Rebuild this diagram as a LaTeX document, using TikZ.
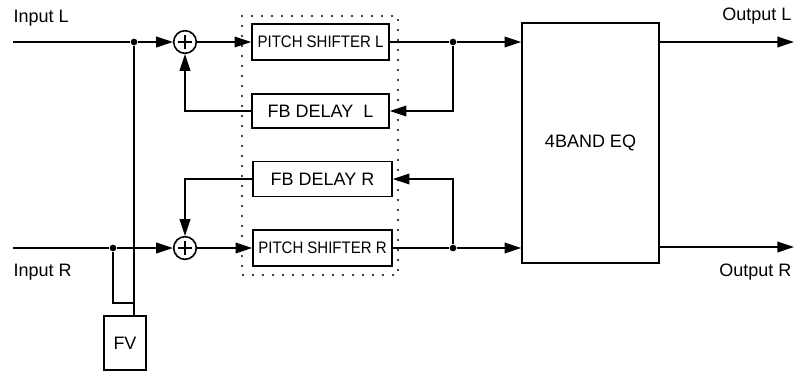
\documentclass[tikz,border=0pt]{standalone}
\usepackage{fontspec}
\usepackage{graphicx}
\setmainfont{Liberation Sans}
\usetikzlibrary{arrows.meta,calc,positioning}
\newcommand{\narrowtext}[1]{\scalebox{0.9}[1]{#1}}
\tikzset{
    blockbox/.style={draw=black,line width=1.2pt,inner sep=0pt},
    sumnode/.style={circle,draw=black,line width=1.2pt,minimum size=17pt,inner sep=0pt,
      path picture={
        \draw[line width=1.2pt] ($(path picture bounding box.center)+(-5pt,0)$) -- ++(10pt,0);
        \draw[line width=1.2pt] ($(path picture bounding box.center)+(0,-5pt)$) -- ++(0,10pt);
      }},
    sigline/.style={line width=1.2pt,draw=black},
    sigarrow/.style={sigline,-{Triangle[length=12.5pt,width=8pt]}},
    jdot/.style={circle,fill=black,inner sep=0pt,minimum size=5pt},
    every node/.style={font=\fontsize{13.5}{15}\selectfont}
}

\begin{document}
\begin{tikzpicture}[x=0.75pt,y=-0.75pt]
  \useasboundingbox (0,0) rectangle (795,372);

  % Bloecke
  \node[blockbox,font=\fontsize{12.5}{14}\selectfont,minimum width=102.75pt,minimum height=27pt]
    (psL) at (320.5,42) {\narrowtext{PITCH SHIFTER L}};
  \node[blockbox,minimum width=102.75pt,minimum height=25.5pt]
    (fbL) at (320.5,111) {FB DELAY~~L};
  \node[blockbox,minimum width=104.25pt,minimum height=26pt]
    (fbR) at (322.5,179) {FB DELAY R};
  \node[blockbox,font=\fontsize{12.5}{14}\selectfont,minimum width=104.25pt,minimum height=27pt]
    (psR) at (322.5,248) {\narrowtext{PITCH SHIFTER R}};
  \node[blockbox,minimum width=102.75pt,minimum height=180pt]
    (EQ) at (590.5,143) {4BAND EQ};
  \node[blockbox,minimum width=31.5pt,minimum height=40.5pt]
    (FV) at (125,343) {FV};

  % Addierer
  \node[sumnode] (sumL) at (185,42) {};
  \node[sumnode] (sumR) at (185,248) {};

  % gepunkteter Rahmen
  \draw[line width=1.8pt,line cap=round,dash pattern=on 0pt off 7.5pt]
    (242,16) rectangle (398,275);

  % Ein- und Ausgaenge
  \coordinate (inL) at (13,42);
  \coordinate (inR) at (13,248);
  \coordinate (outL) at (794,42);
  \coordinate (outR) at (794,247);
  \node[anchor=west] (labInL) at (9,18) {Input L};
  \node[anchor=west] (labInR) at (9,272) {Input R};
  \node[anchor=east] (labOutL) at (796,16) {Output L};
  \node[anchor=east] (labOutR) at (796,272) {Output R};

  % Verzweigungen
  \node[jdot] (jL) at (134,42) {};
  \node[jdot] (jR) at (113,248) {};
  \node[jdot] (jOL) at (453,42) {};
  \node[jdot] (jOR) at (453,248) {};
  \coordinate (knee) at (134,303);

  % Signalwege links
  \draw[sigline] (inL) -- (jL);
  \draw[sigarrow] (jL) -- (sumL.west);
  \draw[sigarrow] (sumL.east) -- (psL.west);
  \draw[sigline] (inR) -- (jR);
  \draw[sigarrow] (jR) -- (sumR.west);
  \draw[sigarrow] (sumR.east) -- (psR.west);

  % Seitenkette zu FV
  \draw[sigline] (jL) -- (jL |- FV.north);
  \draw[sigline] (jR) |- (knee);

  % Rueckkopplung
  \draw[sigarrow] (fbL.west) -| (sumL.south);
  \draw[sigarrow] (fbR.west) -| (sumR.north);
  \draw[sigline] (psL.east) -- (jOL);
  \draw[sigline] (psR.east) -- (jOR);
  \draw[sigarrow] (jOL) |- (fbL.east);
  \draw[sigarrow] (jOR) |- (fbR.east);

  % zum EQ und Ausgaenge
  \draw[sigarrow] (jOL) -- (jOL -| EQ.west);
  \draw[sigarrow] (jOR) -- (jOR -| EQ.west);
  \draw[sigarrow] (outL -| EQ.east) -- (outL);
  \draw[sigarrow] (outR -| EQ.east) -- (outR);
\end{tikzpicture}
\end{document}
